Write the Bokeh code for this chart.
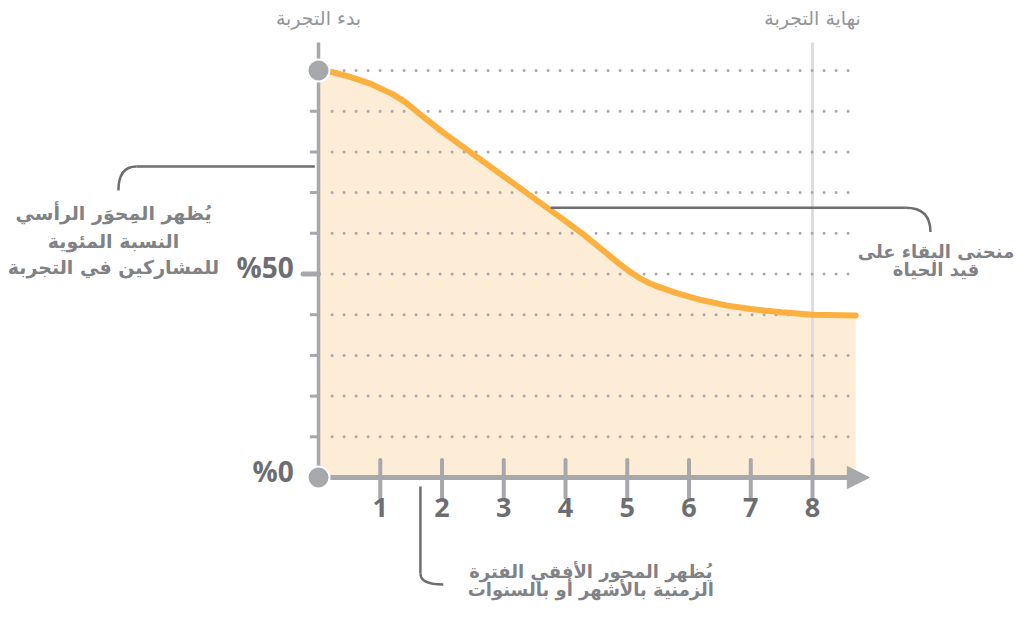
import numpy as np
from bokeh.plotting import figure
from bokeh.models import Range1d, Arrow, NormalHead
from bokeh.core.properties import value
from bokeh.embed import file_html
from bokeh.resources import INLINE

# ---------------- data ----------------
months = [0, 0.2, 0.5, 0.85, 1.2, 1.4, 1.65, 2, 3, 4.0, 4.3, 4.6, 4.9, 5.05, 5.2,
          5.35, 5.5, 5.8, 6.2, 6.6, 7.0, 7.5, 8.0, 8.7]
survival = [100, 99.7, 98.5, 96.7, 94.2, 92.3, 89.2, 85.0, 74.0, 63.0, 59.6, 55.9,
            52.2, 50.5, 49.0, 47.8, 46.9, 45.3, 43.6, 42.3, 41.4, 40.6, 40.0, 39.8]

x_ticks = [1, 2, 3, 4, 5, 6, 7, 8]
x_tick_labels = ["1", "2", "3", "4", "5", "6", "7", "8"]
y_grid = [10, 20, 30, 40, 50, 60, 70, 80, 90, 100]
y_label_values = [0, 50]
y_tick_labels = ["%0", "%50"]

end_month = 8
start_label = "بدء التجربة"
end_label = "نهاية التجربة"
y_note = ["يُظهر المِحوَر الرأسي", "النسبة المئوية", "للمشاركين في التجربة"]
curve_note = ["منحنى البقاء على", "قيد الحياة"]
x_note = ["يُظهر المحور الأفقي الفترة", "الزمنية بالأشهر أو بالسنوات"]

# ---------------- styles ----------------
AXIS = "#a7a8ab"
DARK = "#6d6e71"
NOTE = "#808285"
ORANGE = "#fbb040"
FILL = "#fdedd6"
AR_FONT = value("DejaVu Sans")
NUM_FONT = value("Open Sans")

p = figure(width=1019, height=602,
           x_range=Range1d(-5.150, 11.352), y_range=Range1d(-30.71, 117.2),
           output_backend="svg", toolbar_location=None, min_border=0,
           x_axis_type=None, y_axis_type=None)
p.xgrid.visible = False
p.ygrid.visible = False
p.outline_line_color = None
p.background_fill_color = "white"
p.border_fill_color = "white"

# area under survival curve
p.varea(x=months, y1=0, y2=survival, fill_color=FILL)

# end-of-trial vertical line
p.segment(x0=[end_month], y0=[0], x1=[end_month], y1=[106.9],
          line_color="#dcdddf", line_width=3)

# dotted grid lines
n = len(y_grid)
p.segment(x0=[0.22] * n, y0=y_grid, x1=[8.75] * n, y1=y_grid,
          line_color=AXIS, line_width=3, line_dash="0 12", line_cap="round")

# survival curve
p.line(months, survival, line_color=ORANGE, line_width=6,
       line_cap="round", line_join="round")

# y axis
p.segment(x0=[0], y0=[0], x1=[0], y1=[106.9], line_color=AXIS, line_width=3.5)
p.segment(x0=[-0.14] * n, y0=y_grid, x1=[0] * n, y1=y_grid,
          line_color=AXIS, line_width=3)
p.segment(x0=[-0.25], y0=[50], x1=[0], y1=[50], line_color=AXIS, line_width=5,
          line_cap="round")

# x axis with arrow
p.segment(x0=[0], y0=[0], x1=[8.65], y1=[0], line_color=AXIS, line_width=5)
p.add_layout(Arrow(end=NormalHead(size=22, fill_color=AXIS, line_color=AXIS),
                   x_start=8.55, y_start=0, x_end=8.92, y_end=0,
                   line_color=AXIS, line_width=5))
m = len(x_ticks)
p.segment(x0=x_ticks, y0=[4.3] * m, x1=x_ticks, y1=[-5.0] * m,
          line_color=AXIS, line_width=4, line_cap="round")

# tick labels
p.text(x=x_ticks, y=[-7.4] * m, text=x_tick_labels, text_font=NUM_FONT,
       text_font_style="bold", text_font_size="27px", text_color=DARK,
       text_align="center", text_baseline="middle")
p.text(x=[-0.4, -0.4], y=[1.7, 51.8], text=y_tick_labels, text_font=NUM_FONT,
       text_font_style="bold", text_font_size="28px", text_color=DARK,
       text_align="right", text_baseline="middle")

# start/end markers
p.scatter(x=[0, 0], y=[0, 100], size=22, fill_color=AXIS,
          line_color="white", line_width=2)

# top labels
p.text(x=[0, end_month], y=[113.0, 113.0], text=[start_label, end_label],
       text_font=AR_FONT, text_font_size="19px", text_color="#939598",
       text_align="center", text_baseline="middle")

# leader lines
LW = 2.5
# y-axis note
p.segment(x0=[-0.06], y0=[76.4], x1=[-2.95], y1=[76.4], line_color=DARK, line_width=LW)
p.quadratic(x0=[-2.95], y0=[76.4], x1=[-3.24], y1=[70.5], cx=[-3.24], cy=[76.4],
            line_color=DARK, line_width=LW)
# curve note
p.segment(x0=[3.76], y0=[66.3], x1=[9.51], y1=[66.3], line_color=DARK, line_width=LW)
p.quadratic(x0=[9.51], y0=[66.3], x1=[9.91], y1=[60.3], cx=[9.91], cy=[66.3],
            line_color=DARK, line_width=LW)
# x-axis note
p.segment(x0=[1.65], y0=[-2.2], x1=[1.65], y1=[-23.6], line_color=DARK, line_width=LW)
p.quadratic(x0=[1.65], y0=[-23.6], x1=[2.02], y1=[-26.3], cx=[1.65], cy=[-26.3],
            line_color=DARK, line_width=LW)

# annotation texts
p.text(x=[-3.32] * 3, y=[65.1, 58.2, 51.6], text=y_note, text_font=AR_FONT,
       text_font_style="bold", text_font_size="19px", text_color=NOTE,
       text_align="center", text_baseline="middle")
p.text(x=[10.0] * 2, y=[55.6, 51.0], text=curve_note, text_font=AR_FONT,
       text_font_style="bold", text_font_size="18px", text_color=NOTE,
       text_align="center", text_baseline="middle")
p.text(x=[4.41] * 2, y=[-23.0, -27.4], text=x_note, text_font=AR_FONT,
       text_font_style="bold", text_font_size="18px", text_color=NOTE,
       text_align="center", text_baseline="middle")

open("out.html", "w").write(file_html(p, INLINE))
